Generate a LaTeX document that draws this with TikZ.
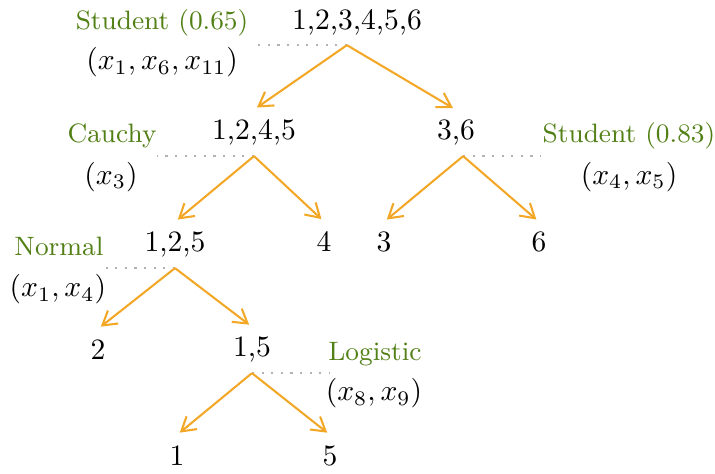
\documentclass[tikz,border=0pt]{standalone}
\usepackage{amsmath}
\usepackage{xcolor}
\usetikzlibrary{arrows.meta,positioning,calc}

\definecolor{distgreen}{RGB}{82,128,22}
\definecolor{splitorange}{RGB}{243,167,38}

\begin{document}
\begin{tikzpicture}
  \tikzstyle{num} = [anchor=base, inner sep=3.33pt]
  \tikzstyle{dist} = [anchor=base, text=distgreen, font=\small]
  \tikzstyle{vars} = [anchor=base]
  \tikzstyle{split} = [draw=splitorange, line width=0.7pt, -{Straight Barb[length=4.6pt,width=5.6pt]}, shorten >=1.2pt]
  \tikzstyle{guide} = [draw=black!30, line width=0.75pt, dash pattern=on 0.75pt off 2.5pt]

  \useasboundingbox (0,0) rectangle (8.498,-5.622);

  % tree nodes
  \node [num] (root) at (4.243,-0.345) {1,2,3,4,5,6};
  \node [num] (n1245) at (3.019,-1.664) {1,2,4,5};
  \node [num] (n36) at (5.420,-1.664) {3,6};
  \node [num] (n125) at (2.080,-2.995) {1,2,5};
  \node [num] (n4) at (3.851,-2.995) {4};
  \node [num] (n3) at (4.564,-2.995) {3};
  \node [num] (n6) at (6.407,-2.995) {6};
  \node [num] (n2) at (1.165,-4.267) {2};
  \node [num] (n15) at (2.995,-4.243) {1,5};
  \node [num] (n1) at (2.104,-5.527) {1};
  \node [num] (n5) at (3.922,-5.527) {5};

  % split labels
  \node [dist] (d0) at (1.926,-0.345) {Student (0.65)};
  \node [vars] (v0) at (1.926,-0.832) {$(x_1, x_6, x_{11})$};
  \node [dist] (d1) at (1.331,-1.688) {Cauchy};
  \node [vars] (v1) at (1.319,-2.188) {$(x_3)$};
  \node [dist] (d2) at (7.476,-1.688) {Student (0.83)};
  \node [vars] (v2) at (7.476,-2.188) {$(x_4, x_5)$};
  \node [dist] (d3) at (0.701,-3.031) {Normal};
  \node [vars] (v3) at (0.689,-3.530) {$(x_1, x_4)$};
  \node [dist] (d4) at (4.457,-4.279) {Logistic};
  \node [vars] (v4) at (4.445,-4.766) {$(x_8, x_9)$};

  \coordinate (o0) at ([xshift=-3.4pt]root.south);
  \coordinate (o1) at (n1245.south);
  \coordinate (o2) at ([xshift=2.4pt]n36.south);
  \coordinate (o3) at (n125.south);
  \coordinate (o4) at (n15.south);

  \coordinate (g0) at ([xshift=-1.13cm]o0);
  \coordinate (g1) at ([xshift=-1.15cm]o1);
  \coordinate (g2) at ([xshift=0.92cm]o2);
  \coordinate (g3) at ([xshift=-0.84cm]o3);
  \coordinate (g4) at ([xshift=0.92cm]o4);

  \draw [guide] (o0) -- (g0);
  \draw [guide] (o1) -- (g1);
  \draw [guide] (o2) -- (g2);
  \draw [guide] (o3) -- (g3);
  \draw [guide] (o4) -- (g4);

  \draw [split] (o0) -- (n1245.north);
  \draw [split] (o0) -- (n36.north);
  \draw [split] (o1) -- (n125.north);
  \draw [split] (o1) -- (n4.north);
  \draw [split] (o2) -- (n3.north);
  \draw [split] (o2) -- (n6.north);
  \draw [split] (o3) -- (n2.north);
  \draw [split] (o3) -- (n15.north);
  \draw [split] (o4) -- (n1.north);
  \draw [split] (o4) -- (n5.north);
\end{tikzpicture}
\end{document}
